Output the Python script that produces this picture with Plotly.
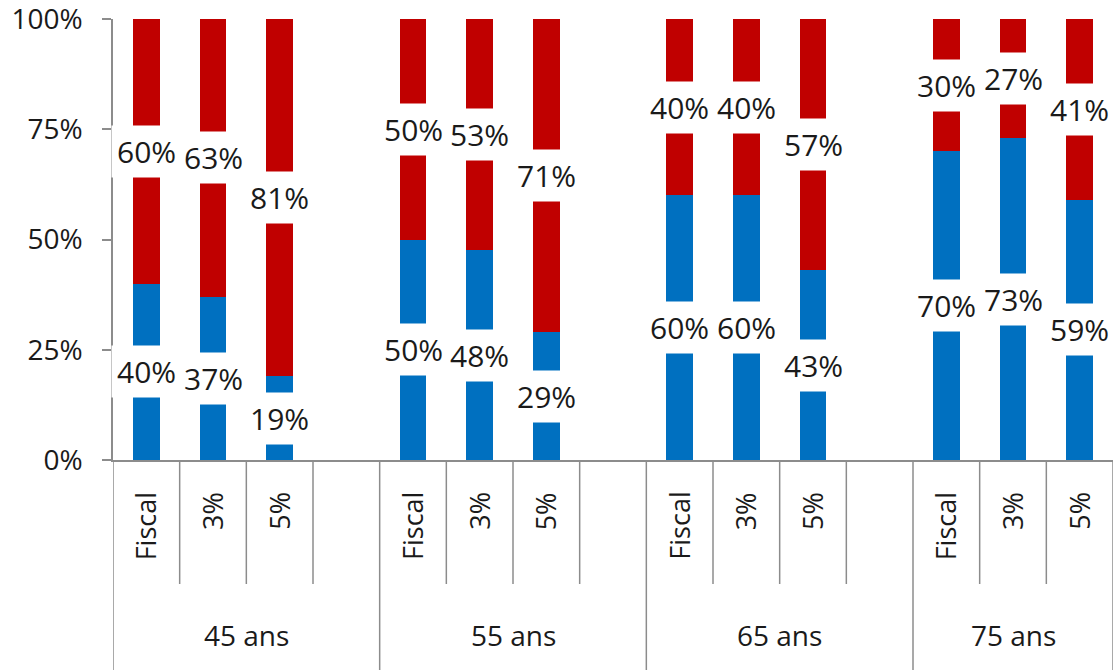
import plotly.graph_objects as go

groups = ["45 ans", "55 ans", "65 ans", "75 ans"]
scenarios = ["Fiscal", "3%", "5%"]
blue_share = [40, 37, 19, 50, 48, 29, 60, 60, 43, 70, 73, 59]
red_share = [60, 63, 81, 50, 53, 71, 40, 40, 57, 30, 27, 41]
y_ticks = [0, 25, 50, 75, 100]

BLUE = "#0070C0"
RED = "#C00000"
GRID = "#8C8C8C"
FONT = "Open Sans"

# slot positions: 4 slots per group (3 scenarios + 1 empty gap)
pos = []
for g in range(len(groups)):
    for i in range(len(scenarios)):
        pos.append(4 * g + i)
n_slots = 4 * (len(groups) - 1) + len(scenarios)

fig = go.Figure()
fig.add_trace(go.Bar(x=pos, y=blue_share, marker=dict(color=BLUE, line=dict(width=0)),
                     width=0.4, hoverinfo="skip"))
fig.add_trace(go.Bar(x=pos, y=red_share, marker=dict(color=RED, line=dict(width=0)),
                     width=0.4, hoverinfo="skip"))

annotations = []
for k, p in enumerate(pos):
    b, r = blue_share[k], red_share[k]
    tot = b + r
    bn = b / tot * 100
    rn = r / tot * 100
    for yc, val in ((bn / 2, b), (bn + rn / 2, r)):
        annotations.append(dict(x=p, y=yc, xref="x", yref="y", text=f"{val}%",
                                showarrow=False, bgcolor="white", borderpad=5,
                                font=dict(family=FONT, size=30, color="#1a1a1a")))
    annotations.append(dict(x=p, y=-0.068, xref="x", yref="paper",
                            text=scenarios[k % len(scenarios)], textangle=-90,
                            showarrow=False, yanchor="top", xanchor="center",
                            font=dict(family=FONT, size=27, color="#1a1a1a")))

shapes = []
for g, name in enumerate(groups):
    start = 4 * g
    end = min(4 * g + 4, n_slots)
    annotations.append(dict(x=(start + end - 1) / 2, y=-0.397, xref="x", yref="paper",
                            text=name, showarrow=False, yanchor="middle",
                            font=dict(family=FONT, size=28, color="#1a1a1a")))
    for s in range(start + 1, end):
        shapes.append(dict(type="line", xref="x", yref="paper", x0=s - 0.5, x1=s - 0.5,
                           y0=0, y1=-0.2812, line=dict(color=GRID, width=1.5)))
for s in [0] + [min(4 * g + 4, n_slots) for g in range(len(groups))]:
    shapes.append(dict(type="line", xref="x", yref="paper", x0=s - 0.5, x1=s - 0.5,
                       y0=0, y1=-0.48, line=dict(color=GRID, width=1.5)))

fig.update_layout(
    barmode="stack",
    barnorm="percent",
    width=1115, height=670,
    margin=dict(l=113, r=2, t=19, b=210, autoexpand=False),
    paper_bgcolor="white", plot_bgcolor="white",
    showlegend=False,
    annotations=annotations,
    shapes=shapes,
    font=dict(family=FONT, color="#1a1a1a"),
)
fig.update_xaxes(range=[-0.5, n_slots - 0.5], showticklabels=False, showgrid=False,
                 zeroline=False, showline=True, linecolor=GRID, linewidth=1.5, ticks="",
                 automargin=False)
fig.update_yaxes(range=[0, 100], tickvals=y_ticks, ticktext=[f"{v}%" for v in y_ticks],
                 showgrid=False, zeroline=False, showline=True, linecolor=GRID, linewidth=1.5,
                 ticks="outside", ticklen=9, tickcolor=GRID, tickwidth=1.5,
                 ticklabelstandoff=14, ticklabeloverflow="allow", automargin=False,
                 tickfont=dict(family=FONT, size=28, color="#1a1a1a"))

fig.write_html("out.html")
